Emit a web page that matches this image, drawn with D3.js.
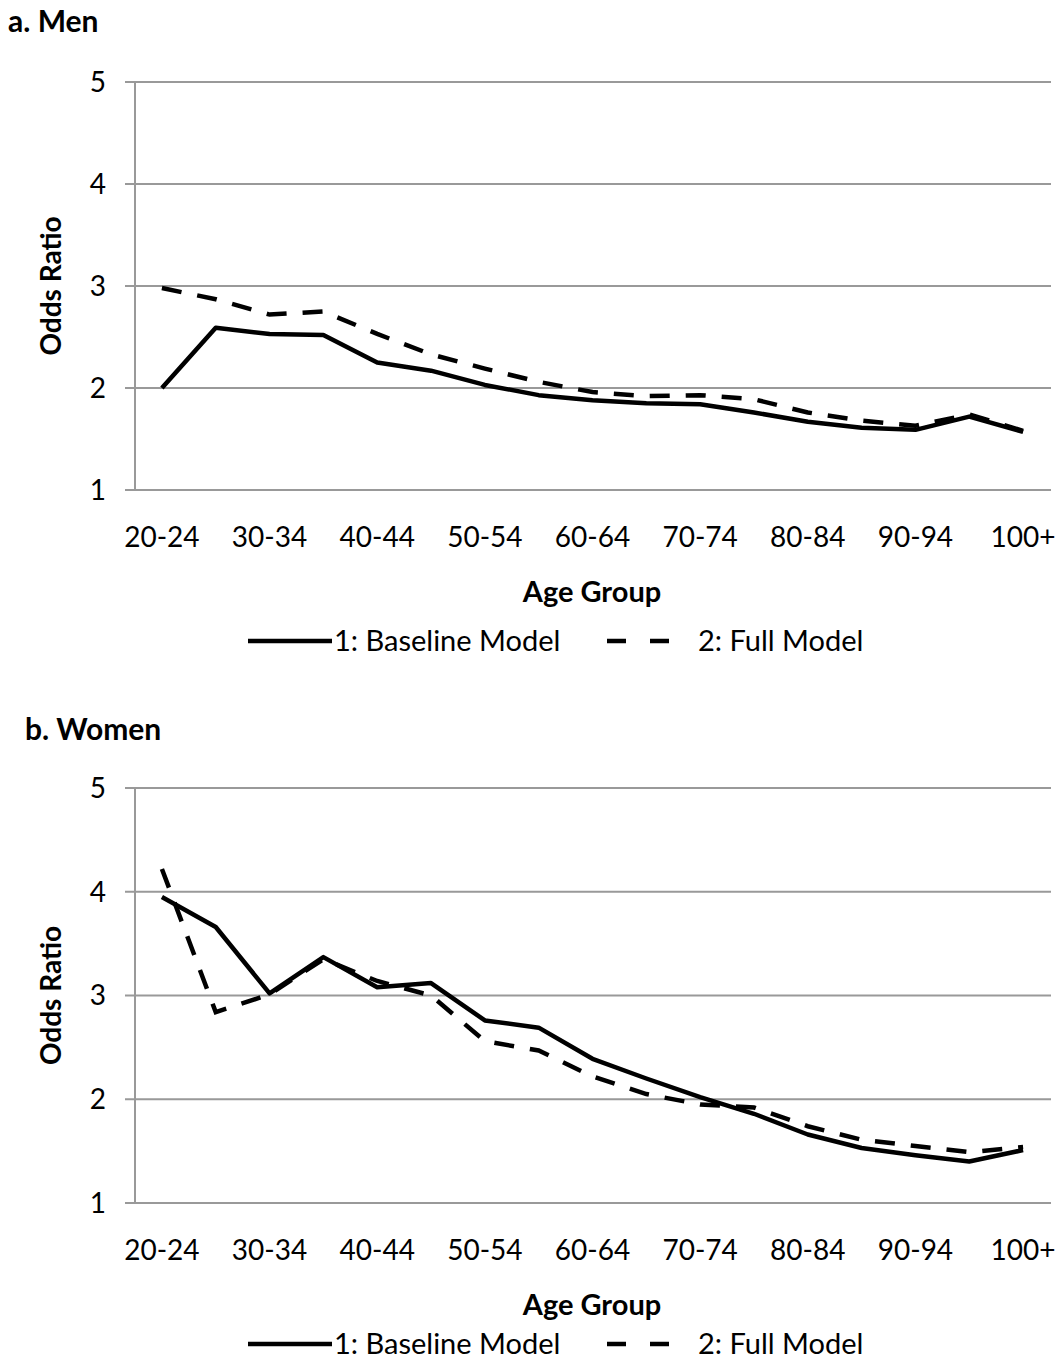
<!DOCTYPE html>
<html lang="en">
<head>
    <meta charset="utf-8">
    <title>Odds ratio by age group</title>
    <script type="text/javascript" src="https://d3js.org/d3.v7.min.js"></script>
    <style type="text/css">
        body { margin: 0; background: #fff; }
        svg { font-family: Lato, "Open Sans", sans-serif; }
    </style>
</head>
<body>
<script type="text/javascript">

    var ageGroups = ["20-24", "25-29", "30-34", "35-39", "40-44", "45-49", "50-54", "55-59",
        "60-64", "65-69", "70-74", "75-79", "80-84", "85-89", "90-94", "95-99", "100+"];
    var shownLabels = ["20-24", "30-34", "40-44", "50-54", "60-64", "70-74", "80-84", "90-94", "100+"];
    var yTicks = [1, 2, 3, 4, 5];

    var menBaseline = [2.00, 2.59, 2.53, 2.52, 2.25, 2.17, 2.03, 1.93, 1.88, 1.85, 1.84, 1.76, 1.67, 1.61, 1.59, 1.72, 1.57];
    var menFull     = [2.98, 2.87, 2.72, 2.75, 2.53, 2.33, 2.19, 2.06, 1.96, 1.92, 1.93, 1.89, 1.76, 1.68, 1.63, 1.74, 1.58];

    var womenBaseline = [3.95, 3.66, 3.02, 3.37, 3.08, 3.12, 2.76, 2.69, 2.39, 2.20, 2.02, 1.86, 1.66, 1.53, 1.46, 1.40, 1.51];
    var womenFull     = [4.22, 2.84, 3.01, 3.35, 3.14, 3.00, 2.56, 2.47, 2.22, 2.05, 1.95, 1.92, 1.74, 1.61, 1.55, 1.49, 1.54];

    var width = 1060, height = 1362;

    var svg = d3.select("body")
        .append("svg")
        .attr("width", width)
        .attr("height", height);

    svg.append("rect").attr("width", width).attr("height", height).attr("fill", "#fff");

    var x = d3.scaleBand()
        .domain(ageGroups)
        .range([135, 1050]);

    function px(d) { return x(d) + x.bandwidth() / 2; }

    function drawPanel(title, titleX, titleY, top, bottom, baseline, full) {
        var y = d3.scaleLinear().domain([1, 5]).range([bottom, top]);
        var g = svg.append("g");

        g.append("text")
            .attr("x", titleX).attr("y", titleY)
            .attr("font-size", 30).attr("font-weight", "bold")
            .text(title);

        // gridlines with little ticks on the left
        g.selectAll(".grid")
            .data(yTicks)
            .enter()
            .append("line")
            .attr("x1", 125).attr("x2", 1051)
            .attr("y1", function(d) { return y(d); })
            .attr("y2", function(d) { return y(d); })
            .attr("stroke", "#999").attr("stroke-width", 2);

        g.append("line")
            .attr("x1", 135).attr("x2", 135)
            .attr("y1", top).attr("y2", bottom)
            .attr("stroke", "#999").attr("stroke-width", 2);

        g.selectAll(".ytick")
            .data(yTicks)
            .enter()
            .append("text")
            .attr("x", 106)
            .attr("y", function(d) { return y(d); })
            .attr("dy", "0.35em")
            .attr("text-anchor", "end")
            .attr("font-size", 28)
            .text(function(d) { return d; });

        g.selectAll(".xtick")
            .data(shownLabels)
            .enter()
            .append("text")
            .attr("x", function(d) { return px(d); })
            .attr("y", bottom + 57)
            .attr("text-anchor", "middle")
            .attr("font-size", 28)
            .text(function(d) { return d; });

        g.append("text")
            .attr("x", 592).attr("y", bottom + 112)
            .attr("text-anchor", "middle")
            .attr("font-size", 29).attr("font-weight", "bold")
            .text("Age Group");

        g.append("text")
            .attr("transform", "translate(61," + ((top + bottom) / 2) + ") rotate(-90)")
            .attr("text-anchor", "middle")
            .attr("font-size", 28).attr("font-weight", "bold")
            .text("Odds Ratio");

        var line = d3.line()
            .x(function(d, i) { return px(ageGroups[i]); })
            .y(function(d) { return y(d); });

        g.append("path")
            .attr("d", line(full))
            .attr("fill", "none").attr("stroke", "#000")
            .attr("stroke-width", 4.5)
            .attr("stroke-dasharray", "20,16");

        g.append("path")
            .attr("d", line(baseline))
            .attr("fill", "none").attr("stroke", "#000")
            .attr("stroke-width", 4.5)
            .attr("stroke-linejoin", "round");
    }

    function drawLegend(ly) {
        var g = svg.append("g");
        g.append("line")
            .attr("x1", 248).attr("x2", 332).attr("y1", ly).attr("y2", ly)
            .attr("stroke", "#000").attr("stroke-width", 4.5);
        g.append("text")
            .attr("x", 334).attr("y", ly).attr("dy", "0.35em")
            .attr("font-size", 29)
            .text("1: Baseline Model");
        g.append("line")
            .attr("x1", 607).attr("x2", 669).attr("y1", ly).attr("y2", ly)
            .attr("stroke", "#000").attr("stroke-width", 4.5)
            .attr("stroke-dasharray", "19,24");
        g.append("text")
            .attr("x", 698).attr("y", ly).attr("dy", "0.35em")
            .attr("font-size", 29)
            .text("2: Full Model");
    }

    drawPanel("a. Men", 8, 32, 82, 490, menBaseline, menFull);
    drawLegend(641);
    drawPanel("b. Women", 25, 740, 788, 1203, womenBaseline, womenFull);
    drawLegend(1344);

</script>
</body>
</html>
